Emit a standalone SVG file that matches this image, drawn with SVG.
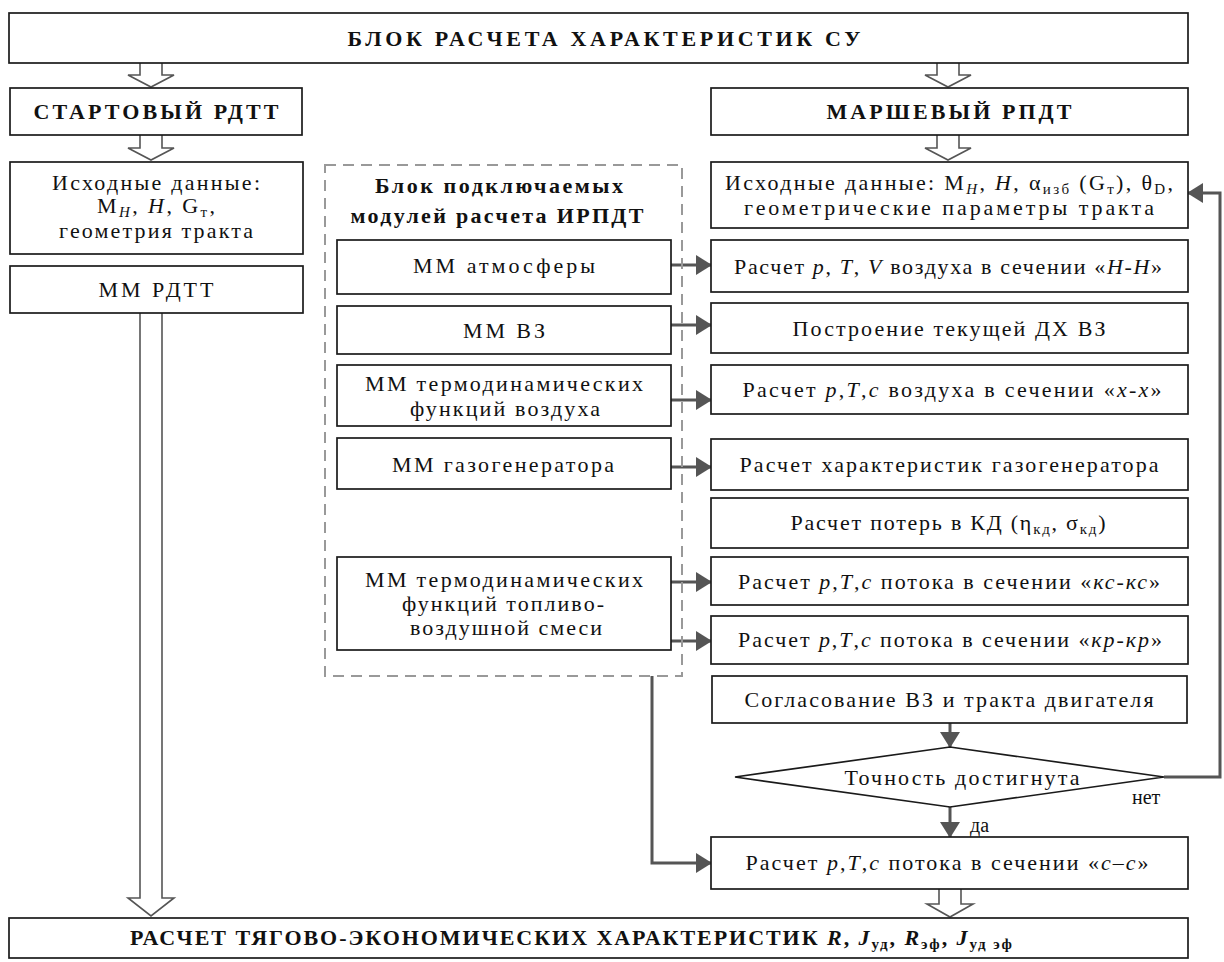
<svg xmlns="http://www.w3.org/2000/svg" width="1224" height="962" viewBox="0 0 1224 962">
<style>
.box{fill:#fff;stroke:#1a1a1a;stroke-width:1.7}
.t{font-family:"Liberation Serif","DejaVu Serif","Times New Roman",serif;font-size:22px;fill:#111;text-anchor:middle}
.s{font-family:"Liberation Serif","DejaVu Serif","Times New Roman",serif;font-size:20px;fill:#111}
.b{font-weight:bold}
.i{font-style:italic}
.sub{font-size:15px}
.hol{fill:#fff;stroke:#555;stroke-width:1.6;stroke-linejoin:miter}
.con{fill:none;stroke:#555;stroke-width:3}
.dash{fill:none;stroke:#999;stroke-width:2;stroke-dasharray:11 7}
</style>
<defs>
<marker id="ah" markerWidth="16" markerHeight="20" refX="15" refY="10" orient="auto" markerUnits="userSpaceOnUse">
<path d="M0,0 L16,10 L0,20 Z" fill="#555"/>
</marker>
</defs>
<rect width="1224" height="962" fill="#fff"/>

<g id="connectors">
<path class="hol" d="M140,63 V75 H128 L151,87 L174,75 H162 V63"/>
<path class="hol" d="M937,63 V75 H925 L948,87 L971,75 H959 V63"/>
<path class="hol" d="M140,135 V148 H128 L151,160 L174,148 H162 V135"/>
<path class="hol" d="M937,135 V148 H925 L948,160 L971,148 H959 V135"/>
<path class="hol" d="M140,313 V898 H128 L151,916 L174,898 H162 V313"/>
<path class="hol" d="M939,889 V904 H927 L950,917 L973,904 H961 V889"/>
<path class="con" d="M671,265 H711" marker-end="url(#ah)"/>
<path class="con" d="M671,325 H711" marker-end="url(#ah)"/>
<path class="con" d="M671,400 H711" marker-end="url(#ah)"/>
<path class="con" d="M671,467 H711" marker-end="url(#ah)"/>
<path class="con" d="M671,582 H711" marker-end="url(#ah)"/>
<path class="con" d="M671,641 H711" marker-end="url(#ah)"/>
<path class="con" d="M652,676 V863 H711" marker-end="url(#ah)"/>
<path class="con" d="M950,723 V747" marker-end="url(#ah)"/>
<path class="con" d="M950,807 V837" marker-end="url(#ah)"/>
<path class="con" d="M1164,777 H1220 V193 H1188" marker-end="url(#ah)"/>
</g>

<g id="top">
<rect class="box" x="9" y="13" width="1179" height="50"/>
<text class="t b" x="604" y="46" textLength="513" lengthAdjust="spacing">БЛОК РАСЧЕТА ХАРАКТЕРИСТИК СУ</text>
</g>

<g id="start">
<rect class="box" x="10" y="88" width="292" height="47"/>
<text class="t b" x="156" y="119" textLength="245" lengthAdjust="spacing">СТАРТОВЫЙ РДТТ</text>
</g>

<g id="march">
<rect class="box" x="711" y="88" width="477" height="47"/>
<text class="t b" x="949" y="119" textLength="245" lengthAdjust="spacing">МАРШЕВЫЙ РПДТ</text>
</g>

<g id="src-left">
<rect class="box" x="10" y="162" width="293" height="92"/>
<text class="t" x="156" y="190" textLength="208" lengthAdjust="spacing">Исходные данные:</text>
<text class="t" x="156" y="213" textLength="118" lengthAdjust="spacing">M<tspan class="sub i" dy="4">H</tspan><tspan dy="-4">, </tspan><tspan class="i">H</tspan>, G<tspan class="sub" dy="4">т</tspan><tspan dy="-4">,</tspan></text>
<text class="t" x="156" y="238" textLength="194" lengthAdjust="spacing">геометрия тракта</text>
</g>

<g id="mm-rdtt">
<rect class="box" x="10" y="266" width="293" height="47"/>
<text class="t" x="156" y="297" textLength="115" lengthAdjust="spacing">ММ РДТТ</text>
</g>

<g id="modules">
<rect class="dash" x="325" y="165" width="357" height="511"/>
<text class="t b" x="499" y="193" textLength="248" lengthAdjust="spacing">Блок подключаемых</text>
<text class="t b" x="497" y="223" textLength="293" lengthAdjust="spacing">модулей расчета ИРПДТ</text>
</g>

<g id="mm-atm">
<rect class="box" x="337" y="240" width="334" height="54"/>
<text class="t" x="504" y="273" textLength="182" lengthAdjust="spacing">ММ атмосферы</text>
</g>

<g id="mm-vz">
<rect class="box" x="337" y="306" width="334" height="48"/>
<text class="t" x="504" y="338" textLength="82" lengthAdjust="spacing">ММ ВЗ</text>
</g>

<g id="mm-td-air">
<rect class="box" x="337" y="365" width="334" height="61"/>
<text class="t" x="504" y="391" textLength="278" lengthAdjust="spacing">ММ термодинамических</text>
<text class="t" x="505" y="416" textLength="190" lengthAdjust="spacing">функций воздуха</text>
</g>

<g id="mm-gg">
<rect class="box" x="337" y="438" width="334" height="51"/>
<text class="t" x="503" y="472" textLength="222" lengthAdjust="spacing">ММ газогенератора</text>
</g>

<g id="mm-td-mix">
<rect class="box" x="337" y="557" width="334" height="93"/>
<text class="t" x="504" y="587" textLength="278" lengthAdjust="spacing">ММ термодинамических</text>
<text class="t" x="503" y="611" textLength="202" lengthAdjust="spacing">функций топливо-</text>
<text class="t" x="506" y="635" textLength="192" lengthAdjust="spacing">воздушной смеси</text>
</g>

<g id="src-right">
<rect class="box" x="711" y="162" width="477" height="66"/>
<text class="t" x="949" y="190" textLength="448" lengthAdjust="spacing">Исходные данные: M<tspan class="sub i" dy="4">H</tspan><tspan dy="-4">, </tspan><tspan class="i">H</tspan>, α<tspan class="sub" dy="4">изб</tspan><tspan dy="-4"> (G</tspan><tspan class="sub" dy="4">т</tspan><tspan dy="-4">), θ</tspan><tspan class="sub" dy="4">D</tspan><tspan dy="-4">,</tspan></text>
<text class="t" x="949" y="215" textLength="410" lengthAdjust="spacing">геометрические параметры тракта</text>
</g>

<g id="calc-hh">
<rect class="box" x="711" y="240" width="477" height="52"/>
<text class="t" x="948" y="274" textLength="428" lengthAdjust="spacing">Расчет <tspan class="i">p</tspan>, <tspan class="i">T</tspan>, <tspan class="i">V</tspan> воздуха в сечении «<tspan class="i">H-H</tspan>»</text>
</g>

<g id="dh-vz">
<rect class="box" x="711" y="303" width="477" height="50"/>
<text class="t" x="949" y="336" textLength="313" lengthAdjust="spacing">Построение текущей ДХ ВЗ</text>
</g>

<g id="calc-xx">
<rect class="box" x="711" y="365" width="477" height="49"/>
<text class="t" x="952" y="397" textLength="419" lengthAdjust="spacing">Расчет <tspan class="i">p</tspan>,<tspan class="i">T</tspan>,<tspan class="i">c</tspan> воздуха в сечении «<tspan class="i">x-x</tspan>»</text>
</g>

<g id="calc-gg">
<rect class="box" x="711" y="439" width="477" height="51"/>
<text class="t" x="949" y="472" textLength="419" lengthAdjust="spacing">Расчет характеристик газогенератора</text>
</g>

<g id="calc-kd">
<rect class="box" x="711" y="498" width="477" height="50"/>
<text class="t" x="948" y="530" textLength="315" lengthAdjust="spacing">Расчет потерь в КД (η<tspan class="sub" dy="4">кд</tspan><tspan dy="-4">, σ</tspan><tspan class="sub" dy="4">кд</tspan><tspan dy="-4">)</tspan></text>
</g>

<g id="calc-ks">
<rect class="box" x="711" y="557" width="477" height="48"/>
<text class="t" x="949" y="589" textLength="422" lengthAdjust="spacing">Расчет <tspan class="i">p</tspan>,<tspan class="i">T</tspan>,<tspan class="i">c</tspan> потока в сечении «<tspan class="i">кс-кс</tspan>»</text>
</g>

<g id="calc-kr">
<rect class="box" x="711" y="616" width="477" height="48"/>
<text class="t" x="950" y="647" textLength="424" lengthAdjust="spacing">Расчет <tspan class="i">p</tspan>,<tspan class="i">T</tspan>,<tspan class="i">c</tspan> потока в сечении «<tspan class="i">кр-кр</tspan>»</text>
</g>

<g id="match">
<rect class="box" x="712" y="676" width="475" height="47"/>
<text class="t" x="949" y="707" textLength="409" lengthAdjust="spacing">Согласование ВЗ и тракта двигателя</text>
</g>

<g id="decision">
<polygon class="box" points="735,777 950,747 1164,777 950,807"/>
<text class="t" x="962" y="785" textLength="235" lengthAdjust="spacing">Точность достигнута</text>
<text class="s" x="1132" y="804">нет</text>
<text class="s" x="970" y="832">да</text>
</g>

<g id="calc-cc">
<rect class="box" x="711" y="837" width="477" height="52"/>
<text class="t" x="947" y="870" textLength="403" lengthAdjust="spacing">Расчет <tspan class="i">p</tspan>,<tspan class="i">T</tspan>,<tspan class="i">c</tspan> потока в сечении «<tspan class="i">c–c</tspan>»</text>
</g>

<g id="thrust">
<rect class="box" x="9" y="918" width="1179" height="40"/>
<text class="t b" x="571" y="945" textLength="882" lengthAdjust="spacing">РАСЧЕТ ТЯГОВО-ЭКОНОМИЧЕСКИХ ХАРАКТЕРИСТИК <tspan class="i">R</tspan>, <tspan class="i">J</tspan><tspan class="sub" dy="4">уд</tspan><tspan dy="-4">, </tspan><tspan class="i">R</tspan><tspan class="sub" dy="4">эф</tspan><tspan dy="-4">, </tspan><tspan class="i">J</tspan><tspan class="sub" dy="4">уд эф</tspan></text>
</g>
</svg>
